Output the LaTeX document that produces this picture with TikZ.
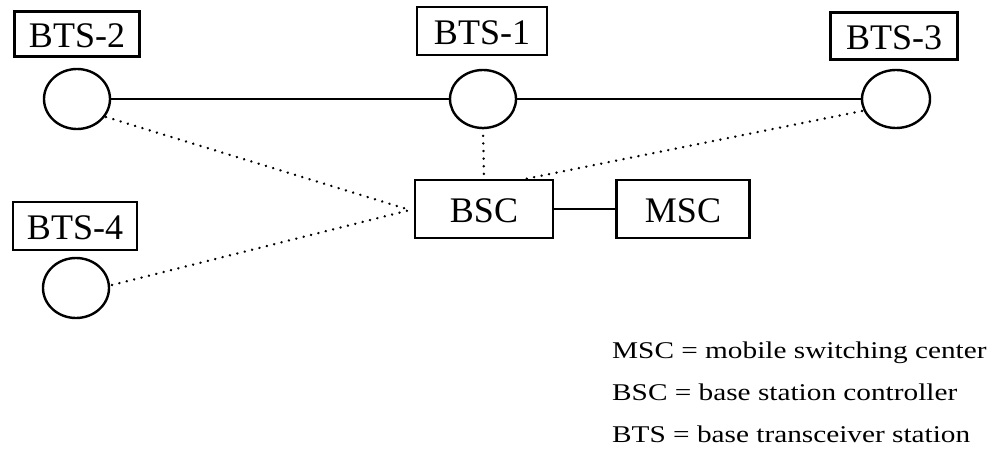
\documentclass[tikz,border=0pt]{standalone}
\usepackage{fontspec}
\setmainfont{Liberation Serif}
\begin{document}
\begin{tikzpicture}[x=1pt,y=-1pt,
  lbl/.style={draw=black,line width=2.6pt,inner sep=0pt,text depth=0pt,font=\fontsize{36}{36}\selectfont},
  circ/.style={line width=2.4pt},
  solidlink/.style={draw=black,line width=1.2pt},
  dotlink/.style={draw=black,line width=2.6pt,line cap=round,dash pattern=on 0.1pt off 7.5pt},
  legend/.style={anchor=base west,inner sep=0pt,font=\fontsize{24}{24}\selectfont}]
\useasboundingbox (0,0) rectangle (996,455);
% boxes
\node[lbl,minimum width=125pt,minimum height=45pt] (b2) at (77,34) {\raisebox{-3pt}{BTS-2}};
\node[lbl,minimum width=130pt,minimum height=48pt] (b1) at (482,31) {\raisebox{-3pt}{BTS-1}};
\node[lbl,minimum width=127pt,minimum height=47pt] (b3) at (894,36) {\raisebox{-3pt}{BTS-3}};
\node[lbl,minimum width=124pt,minimum height=48pt] (b4) at (75,226) {\raisebox{-3pt}{BTS-4}};
\node[lbl,minimum width=138pt,minimum height=58pt] (bsc) at (484,209) {\raisebox{-3pt}{BSC}};
\node[lbl,minimum width=133pt,minimum height=58pt] (msc) at (683,209) {\raisebox{-3pt}{MSC}};
% circles
\draw[circ] (77,99) ellipse (33 and 30);
\node[minimum width=66pt,minimum height=60pt,inner sep=0pt] (c2) at (77,99) {};
\draw[circ] (483,99) ellipse (33 and 29);
\node[minimum width=66pt,minimum height=58pt,inner sep=0pt] (c1) at (483,99) {};
\draw[circ] (896,99) ellipse (34 and 29);
\node[minimum width=68pt,minimum height=58pt,inner sep=0pt] (c3) at (896,99) {};
\draw[circ] (76,288) ellipse (33 and 30);
\node[minimum width=66pt,minimum height=60pt,inner sep=0pt] (c4) at (76,288) {};
% solid links
\draw[solidlink] (c2.east) -- (c1.west);
\draw[solidlink] (c1.east) -- (c3.west);
\draw[solidlink] (bsc.east) -- (msc.west);
% dotted links
\coordinate (bscl) at (410,210);
\coordinate (bsctr) at (525,179);
\draw[dotlink] (106,117) -- (bscl);
\draw[dotlink] (112,285) -- (bscl);
\draw[dotlink] (c1.south) -- (bsc.north);
\draw[dotlink] (862,111) -- (bsctr);
% legend
\node[legend] (l1) at (612,358) {\scalebox{1.22}[1]{MSC = mobile switching center}};
\node[legend] (l2) at (612,400) {\scalebox{1.22}[1]{BSC = base station controller}};
\node[legend] (l3) at (612,442) {\scalebox{1.22}[1]{BTS = base transceiver station}};
\end{tikzpicture}
\end{document}
